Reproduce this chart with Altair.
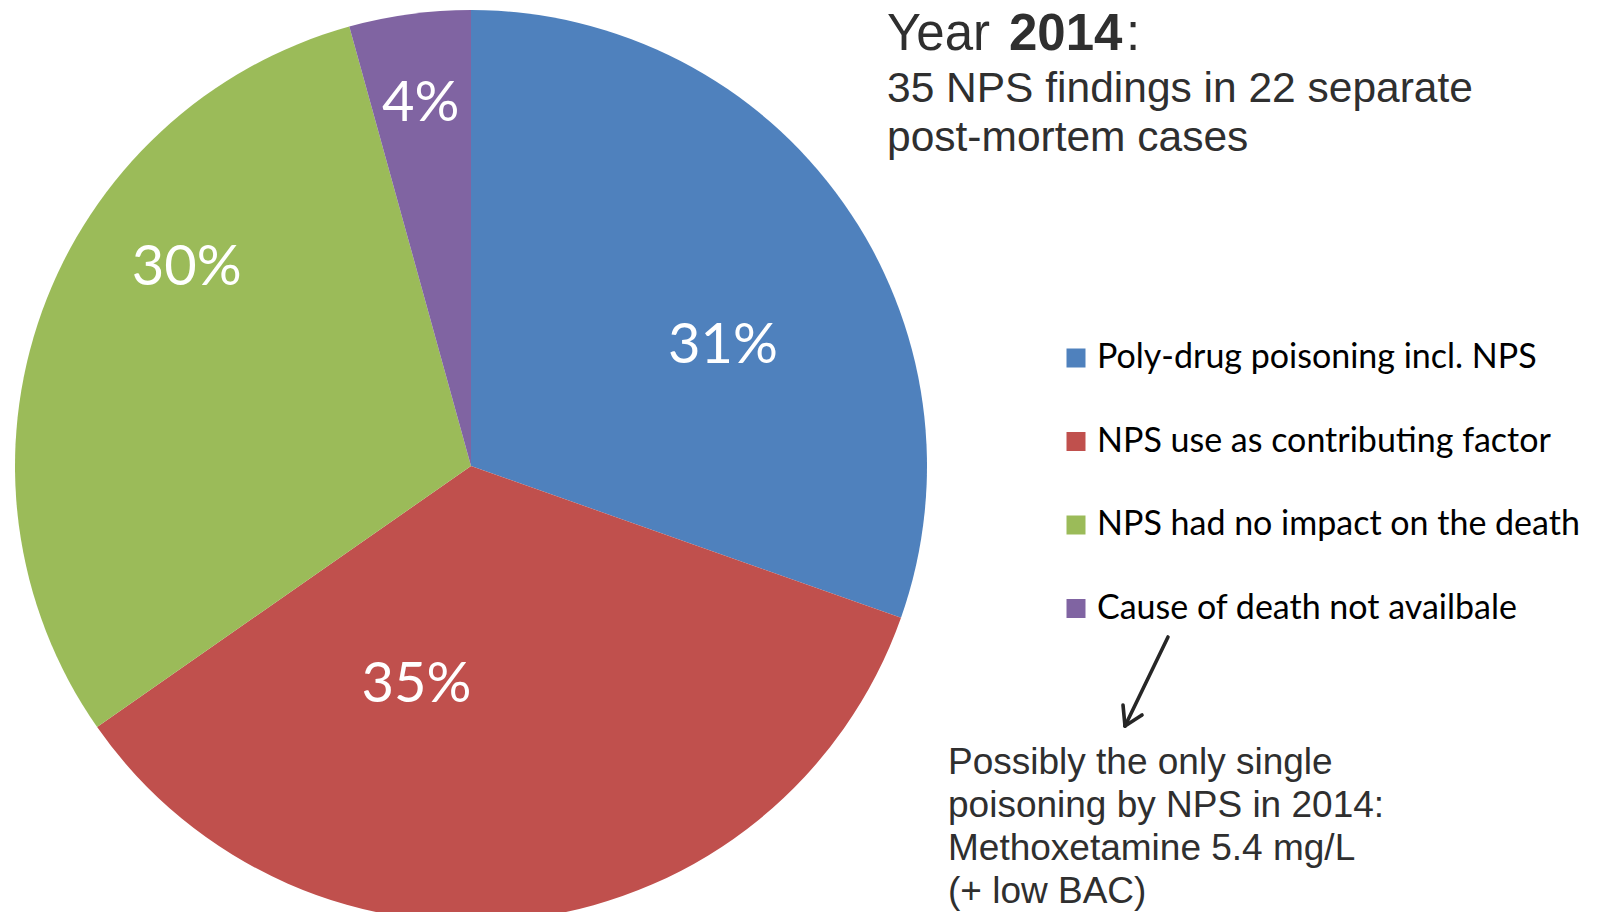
import altair as alt
import pandas as pd

# ---- data ----
categories = ["Poly-drug poisoning incl. NPS", "NPS use as contributing factor",
              "NPS had no impact on the death", "Cause of death not availbale"]
shares = [30.4, 34.9, 30.4, 4.3]          # slice sizes
share_labels = ["31%", "35%", "30%", "4%"]  # printed labels
slice_colors = ["#4F81BD", "#C0504D", "#9BBB59", "#8064A2"]

title_normal = "Year "
title_bold = "2014"
title_colon = ":"
subtitle_lines = ["35 NPS findings in 22 separate", "post-mortem cases"]
note_lines = ["Possibly the only single", "poisoning by NPS in 2014:",
              "Methoxetamine 5.4 mg/L", "(+ low BAC)"]

df = pd.DataFrame({"category": categories, "share": shares,
                   "label": share_labels, "idx": list(range(len(categories)))})
one = pd.DataFrame({"k": [0]})

# ---- layout constants ----
W, H = 1586, 904
CX, CY, R = 463, 458, 456
TXT = "#2f2f2f"

pie = alt.Chart(df).mark_arc(radius=R).encode(
    theta=alt.Theta("share:Q", stack=True, scale=alt.Scale(domain=[0, 100])),
    color=alt.Color("category:N",
                    scale=alt.Scale(domain=categories, range=slice_colors),
                    legend=alt.Legend(title=None, orient="none", legendX=1051, legendY=333,
                                      symbolType="square", symbolSize=361,
                                      symbolStrokeWidth=0, labelFont="Lato",
                                      labelFontSize=34, labelColor="#000000",
                                      labelOffset=4, rowPadding=49.5, padding=0,
                                      labelLimit=700, direction="vertical")),
    order=alt.Order("idx:Q"),
    x=alt.value(CX), y=alt.value(CY),
)

label_offsets = [(7, 53), (-95, -78), (-2, -96), (-10, -65)]
label_layers = []
for i, (ddx, ddy) in enumerate(label_offsets):
    label_layers.append(
        alt.Chart(df)
        .transform_window(cum="sum(share)", sort=[alt.SortField("idx", order="ascending")],
                          frame=[None, 0])
        .transform_calculate(mid="datum.cum - datum.share / 2")
        .transform_filter(f"datum.idx == {i}")
        .mark_text(font="Lato", fontSize=56, color="white", align="center",
                   baseline="middle", dx=ddx, dy=ddy)
        .encode(theta=alt.Theta("mid:Q", stack=False, scale=alt.Scale(domain=[0, 100])),
                radius=alt.value(300), x=alt.value(CX), y=alt.value(CY),
                text="label:N")
    )

def txt(text, x, y, size, weight="normal", line_height=None, color=TXT, font="Liberation Sans"):
    props = dict(font=font, fontSize=size, fontWeight=weight, color=color,
                 align="left", baseline="alphabetic")
    if line_height is not None:
        props["lineHeight"] = line_height
    return alt.Chart(one).mark_text(**props).encode(
        x=alt.value(x), y=alt.value(y), text=alt.value(text))

title1 = txt(title_normal, 879, 42, 51)
title2 = txt(title_bold, 1001, 42, 51, weight="bold")
title3 = txt(title_colon, 1118, 42, 51)
subtitle = txt(subtitle_lines, 879, 94, 42.5, line_height=49)
note = txt(note_lines, 940, 766, 37, line_height=43)

def seg(x1, y1, x2, y2):
    return alt.Chart(one).mark_rule(color="#262626", strokeWidth=3.6, strokeCap="round").encode(
        x=alt.value(x1), y=alt.value(y1), x2=alt.value(x2), y2=alt.value(y2))

arrow = [seg(1160, 629, 1117, 718), seg(1117, 718, 1115, 697), seg(1117, 718, 1134, 707)]

chart = alt.layer(pie, *label_layers, title1, title2, title3, subtitle, note, *arrow).properties(
    width=W, height=H, padding=0,
    autosize=alt.AutoSizeParams(type="none"),
    background="white",
).configure_view(strokeWidth=0)

chart.save("out.html", embed_options={"renderer": "svg", "actions": False})
